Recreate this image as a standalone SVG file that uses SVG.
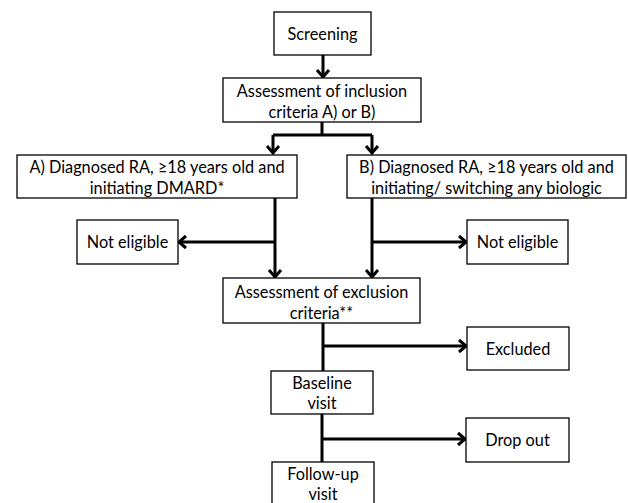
<svg xmlns="http://www.w3.org/2000/svg" width="628" height="503" viewBox="0 0 628 503">
<style>
.box{fill:#fff;stroke:#000;stroke-width:1.3}
.t{font-family:Lato,"Open Sans","Liberation Sans",sans-serif;font-size:16.3px;fill:#000;text-anchor:middle}
.c{fill:none;stroke:#000;stroke-width:3}
</style>
<defs>
<marker id="ah" markerUnits="userSpaceOnUse" markerWidth="14" markerHeight="14" refX="10" refY="7" orient="auto" overflow="visible">
<polyline points="3,1 10,7 3,13" fill="none" stroke="#000" stroke-width="3"/>
</marker>
</defs>
<rect width="628" height="503" fill="#fff"/>
<g id="connectors">
<line class="c" x1="323" y1="55" x2="323" y2="77" marker-end="url(#ah)"/>
<polyline class="c" points="322,122 322,135"/>
<polyline class="c" points="273,135 372,135"/>
<line class="c" x1="273" y1="135" x2="273" y2="153" marker-end="url(#ah)"/>
<line class="c" x1="372" y1="135" x2="372" y2="153" marker-end="url(#ah)"/>
<line class="c" x1="275" y1="198" x2="275" y2="277" marker-end="url(#ah)"/>
<line class="c" x1="275" y1="242" x2="179" y2="242" marker-end="url(#ah)"/>
<line class="c" x1="372" y1="198" x2="372" y2="277" marker-end="url(#ah)"/>
<line class="c" x1="372" y1="242" x2="466" y2="242" marker-end="url(#ah)"/>
<line class="c" x1="323" y1="323" x2="323" y2="371"/>
<line class="c" x1="323" y1="346" x2="466" y2="346" marker-end="url(#ah)"/>
<line class="c" x1="322" y1="414" x2="322" y2="462"/>
<line class="c" x1="322" y1="439" x2="465" y2="439" marker-end="url(#ah)"/>
</g>
<g id="screening"><rect class="box" x="274" y="12" width="97" height="43"/><text class="t" x="322.5" y="40">Screening</text></g>
<g id="inclusion"><rect class="box" x="223" y="78" width="198" height="44"/><text class="t" x="322" y="97">Assessment of inclusion</text><text class="t" x="322" y="118">criteria A) or B)</text></g>
<g id="optionA"><rect class="box" x="17" y="155" width="280" height="43"/><text class="t" x="157" y="173">A) Diagnosed RA, ≥18 years old and</text><text class="t" x="157" y="194">initiating DMARD*</text></g>
<g id="optionB"><rect class="box" x="347" y="155" width="279" height="43"/><text class="t" x="486.5" y="173">B) Diagnosed RA, ≥18 years old and</text><text class="t" x="486.5" y="194">initiating/ switching any biologic</text></g>
<g id="notEligibleA"><rect class="box" x="77" y="220" width="101" height="44"/><text class="t" x="127.5" y="248">Not eligible</text></g>
<g id="notEligibleB"><rect class="box" x="467" y="220" width="101" height="44"/><text class="t" x="517.5" y="248">Not eligible</text></g>
<g id="exclusion"><rect class="box" x="223" y="278" width="197" height="45"/><text class="t" x="321.5" y="298">Assessment of exclusion</text><text class="t" x="321.5" y="319">criteria**</text></g>
<g id="excluded"><rect class="box" x="467" y="327" width="102" height="43"/><text class="t" x="518" y="355">Excluded</text></g>
<g id="baseline"><rect class="box" x="271" y="371" width="102" height="43"/><text class="t" x="322" y="389">Baseline</text><text class="t" x="322" y="409">visit</text></g>
<g id="dropout"><rect class="box" x="466" y="418" width="103" height="44"/><text class="t" x="517.5" y="446">Drop out</text></g>
<g id="followup"><rect class="box" x="272" y="462" width="102" height="44"/><text class="t" x="323" y="480">Follow-up</text><text class="t" x="323" y="500">visit</text></g>
</svg>
